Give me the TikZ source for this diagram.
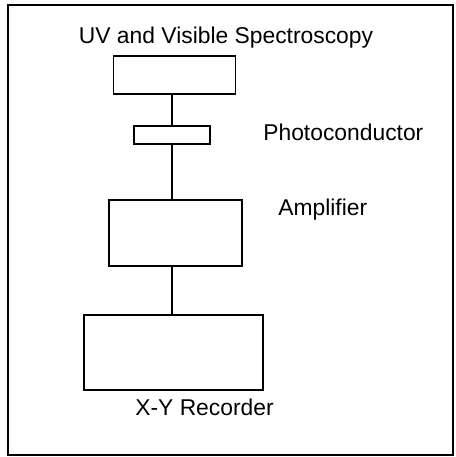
\documentclass[tikz,border=0pt]{standalone}
\usepackage{fontspec}
\setmainfont{Liberation Sans}
\usepackage{tikz}
\usetikzlibrary{positioning, calc}

\begin{document}
\begin{tikzpicture}[
      x=0.02cm, y=-0.02cm,
      block/.style={draw=black, line width=1pt, inner sep=0pt},
      link/.style={draw=black, line width=1pt},
      caption/.style={font=\fontsize{13}{15}\selectfont, inner sep=0pt}
    ]
      \useasboundingbox (0,0) rectangle (456,457);
      \draw[line width=1pt] (8,5) rectangle (453,455);

      \node[block, minimum width=2.44cm, minimum height=0.76cm] (src) at (174.5, 75)  {};
      \node[block, minimum width=1.52cm, minimum height=0.36cm] (pc)  at (172, 135)   {};
      \node[block, minimum width=2.66cm, minimum height=1.32cm] (amp) at (175.5, 233) {};
      \node[block, minimum width=3.58cm, minimum height=1.50cm] (rec) at (173.5, 352.5) {};

      \draw[link] (src.south -| pc.center) -- (pc.north);
      \draw[link] (pc.south) -- (pc.south |- amp.north);
      \draw[link] (amp.south -| pc.center) -- (pc.center |- rec.north);

      \node[caption, anchor=base]      (srclbl) at (226, 43)  {UV and Visible Spectroscopy};
      \node[caption, anchor=base west] (pclbl)  at (263, 140) {Photoconductor};
      \node[caption, anchor=base west] (amplbl) at (278, 215) {Amplifier};
      \node[caption, anchor=base west] (reclbl) at (135, 415) {X-Y Recorder};
    \end{tikzpicture}
\end{document}
